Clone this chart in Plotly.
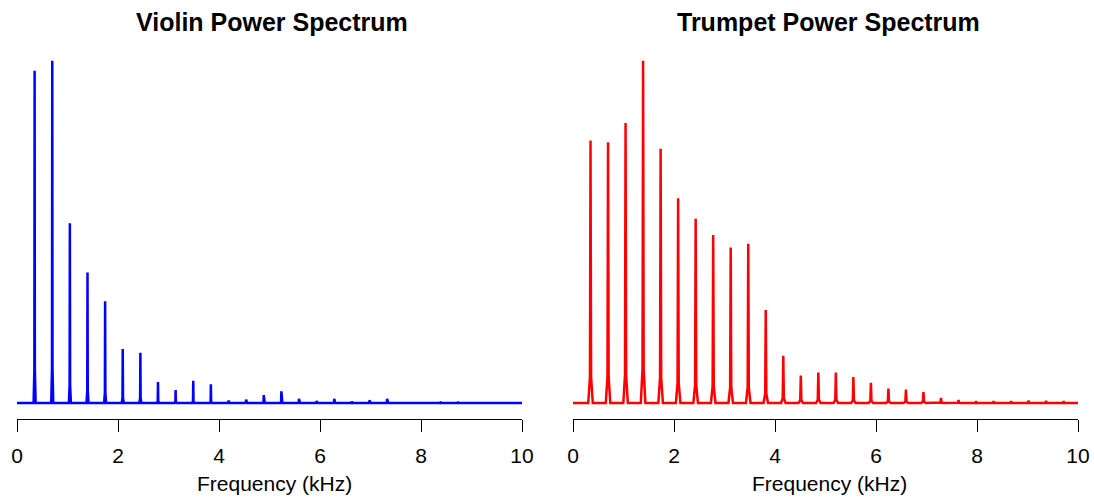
import plotly.graph_objects as go
from plotly.subplots import make_subplots

# ---- data (frequency in kHz, relative power) ----
violin_freq = [0.349, 0.698, 1.047, 1.396, 1.745, 2.094, 2.443, 2.792, 3.141, 3.490,
               3.839, 4.188, 4.537, 4.886, 5.235, 5.584, 5.933, 6.282, 6.631, 6.980,
               7.329, 7.678, 8.027, 8.376, 8.725]
violin_power = [0.971, 1.000, 0.525, 0.381, 0.297, 0.158, 0.147, 0.061, 0.038, 0.065,
                0.055, 0.007, 0.010, 0.023, 0.034, 0.012, 0.006, 0.012, 0.004, 0.008,
                0.012, 0.001, 0.002, 0.003, 0.003]

trumpet_freq = [0.347, 0.694, 1.041, 1.388, 1.735, 2.082, 2.429, 2.776, 3.123, 3.470,
                3.817, 4.164, 4.511, 4.858, 5.205, 5.552, 5.899, 6.246, 6.593, 6.940,
                7.287, 7.634, 7.981, 8.328, 8.675, 9.022, 9.369, 9.716]
trumpet_power = [0.767, 0.762, 0.818, 1.000, 0.743, 0.598, 0.538, 0.491, 0.454, 0.465,
                 0.272, 0.138, 0.080, 0.089, 0.089, 0.076, 0.059, 0.042, 0.039, 0.032,
                 0.015, 0.009, 0.005, 0.005, 0.005, 0.007, 0.006, 0.005]

freq_range = [0, 10]
x_ticks = [0, 2, 4, 6, 8, 10]
titles = ["Violin Power Spectrum", "Trumpet Power Spectrum"]
x_label = "Frequency (kHz)"


def spectrum_line(freqs, powers, half_width, shoulder):
    """Build a line of narrow spikes (one per harmonic) on a zero baseline."""
    xs, ys = [freq_range[0]], [0.0]
    for f, p in zip(freqs, powers):
        xs += [f - half_width, f - half_width * 0.25, f, f + half_width * 0.25, f + half_width]
        ys += [0.0, p * shoulder, p, p * shoulder, 0.0]
    xs.append(freq_range[1])
    ys.append(0.0)
    return xs, ys


W, H = 1094, 498
fig = make_subplots(rows=1, cols=2)

vx, vy = spectrum_line(violin_freq, violin_power, 0.02, 0.1)
tx, ty = spectrum_line(trumpet_freq, trumpet_power, 0.045, 0.1)

fig.add_trace(go.Scatter(x=vx, y=vy, mode="lines", line=dict(color="#0000FF", width=2.5),
                         showlegend=False, hoverinfo="skip"), row=1, col=1)
fig.add_trace(go.Scatter(x=tx, y=ty, mode="lines", line=dict(color="#FF0000", width=2.5),
                         showlegend=False, hoverinfo="skip"), row=1, col=2)

# pixel geometry
left_dom = [17 / W, 522 / W]
right_dom = [573 / W, 1078 / W]
bottom_px, top_px = 419, 40
ydom = [(H - bottom_px) / H, (H - top_px) / H]
y0_px, y1_px = 403, 60.7
per = (y0_px - y1_px)
yrange = [-(bottom_px - y0_px) / per, 1 + (y1_px - top_px) / per]

font = "Liberation Sans, Arial, Helvetica, sans-serif"
xaxis_common = dict(range=freq_range, tickmode="array", tickvals=x_ticks,
                    ticktext=[str(t) for t in x_ticks], automargin=False,
                    showgrid=False, zeroline=False, showline=True, linecolor="black",
                    linewidth=1, ticks="outside", ticklen=12, tickwidth=1, tickcolor="black",
                    tickfont=dict(family=font, size=21, color="black"),
                    ticklabelstandoff=6, fixedrange=True)
yaxis_common = dict(range=yrange, domain=ydom, visible=False, fixedrange=True,
                    automargin=False)

fig.update_layout(
    width=W, height=H, margin=dict(l=0, r=0, t=0, b=0, autoexpand=False),
    paper_bgcolor="white", plot_bgcolor="white",
    xaxis=dict(domain=left_dom, **xaxis_common),
    xaxis2=dict(domain=right_dom, **xaxis_common),
    yaxis=yaxis_common, yaxis2=yaxis_common,
)

centers = [272 / W, 828 / W]
for c, t in zip(centers, titles):
    fig.add_annotation(x=c, y=(H - 22) / H, xref="paper", yref="paper", text="<b>" + t + "</b>",
                       showarrow=False, xanchor="center", yanchor="middle",
                       font=dict(family=font, size=25, color="black"))
    fig.add_annotation(x=c + 2 / W, y=(H - 483) / H, xref="paper", yref="paper", text=x_label,
                       showarrow=False, xanchor="center", yanchor="middle",
                       font=dict(family=font, size=21, color="black"))

fig.write_html("out.html")
